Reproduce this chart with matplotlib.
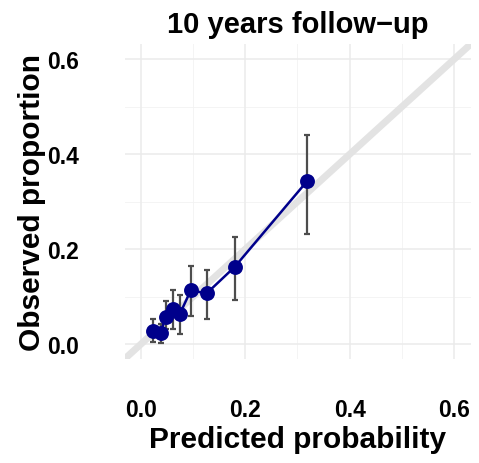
import matplotlib
matplotlib.use("Agg")
import matplotlib.pyplot as plt

plt.rcParams['font.family'] = ['Liberation Sans', 'DejaVu Sans']

# calibration par décile : probabilité prédite vs proportion observée
predicted = [0.023, 0.038, 0.048, 0.062, 0.075, 0.096, 0.126, 0.180, 0.319]
observed = [0.028, 0.023, 0.058, 0.075, 0.064, 0.114, 0.107, 0.163, 0.344]
ci_low = [0.004, 0.002, 0.032, 0.033, 0.021, 0.060, 0.054, 0.093, 0.233]
ci_high = [0.053, 0.042, 0.091, 0.114, 0.104, 0.165, 0.156, 0.226, 0.440]
ticks = [0.0, 0.2, 0.4, 0.6]
tick_labels = ["0.0", "0.2", "0.4", "0.6"]

fig = plt.figure(figsize=(4.79, 4.64), dpi=100)
ax = fig.add_axes([0.261, 0.224, 0.722, 0.679])

ax.set_xlim(-0.03, 0.632)
ax.set_ylim(-0.031, 0.632)

# grille façon theme_minimal
for t in [0.1, 0.3, 0.5]:
    ax.axvline(t, color='#f2f2f2', lw=0.6, zorder=0)
    ax.axhline(t, color='#f2f2f2', lw=0.6, zorder=0)
for t in ticks:
    ax.axvline(t, color='#ebebeb', lw=1.1, zorder=0)
    ax.axhline(t, color='#ebebeb', lw=1.1, zorder=0)

ax.axline((0, 0), slope=1, color='#e3e3e3', lw=5, zorder=1)

err = [[o - l for o, l in zip(observed, ci_low)], [h - o for o, h in zip(observed, ci_high)]]
ax.errorbar(predicted, observed, yerr=err, fmt='none', ecolor='#4d4d4d',
            elinewidth=1.6, capsize=2, capthick=1.6, zorder=2)
ax.plot(predicted, observed, color='#00008b', lw=1.8, zorder=3)
ax.scatter(predicted, observed, s=115, color='#00008b', zorder=4, linewidths=0)

for s in ax.spines.values():
    s.set_visible(False)
ax.set_xticks(ticks)
ax.set_yticks(ticks)
ax.set_xticklabels(tick_labels, fontsize=16.5, fontweight='bold')
ax.set_yticklabels(tick_labels, fontsize=16.5, fontweight='bold')
ax.tick_params(axis='x', length=0, pad=28)
ax.tick_params(axis='y', length=0, pad=33)

ax.set_xlabel("Predicted probability", fontsize=21.5, fontweight='bold', labelpad=3)
ax.set_ylabel("Observed proportion", fontsize=21.5, fontweight='bold', labelpad=1)
ax.set_title("10 years follow\u2212up", fontsize=21, fontweight='bold', pad=9)

fig.savefig("out.png", dpi=100)
plt.close()
